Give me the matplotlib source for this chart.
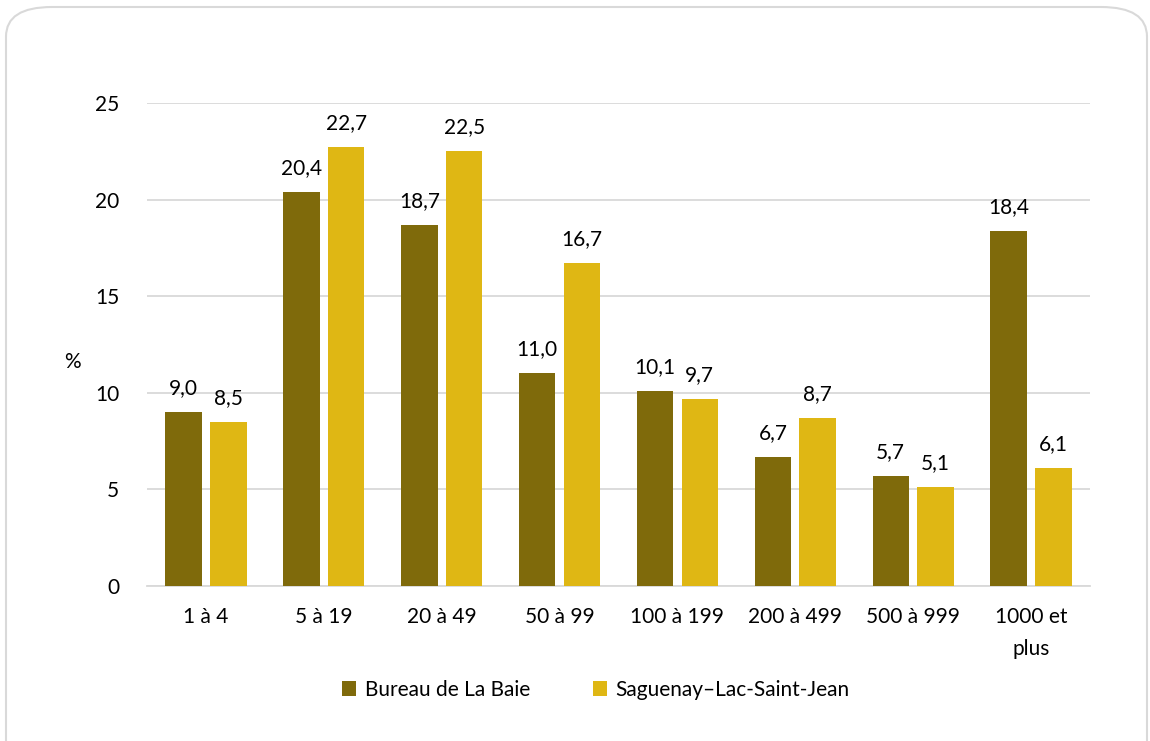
import matplotlib.pyplot as plt
import numpy as np
from matplotlib.patches import FancyBboxPatch

plt.rcParams['font.family'] = ['Lato', 'DejaVu Sans']

categories = ["1 à 4", "5 à 19", "20 à 49", "50 à 99", "100 à 199",
              "200 à 499", "500 à 999", "1000 et\nplus"]
bureau = [9.0, 20.4, 18.7, 11.0, 10.1, 6.7, 5.7, 18.4]
region = [8.5, 22.7, 22.5, 16.7, 9.7, 8.7, 5.1, 6.1]
series_names = ["Bureau de La Baie", "Saguenay\u2013Lac-Saint-Jean"]

dark = "#7F6A0B"
gold = "#DFB714"
fs = 15

fig = plt.figure(figsize=(11.5, 7.41), dpi=100)

# rounded frame around the chart
frame = FancyBboxPatch((6 / 1150, -0.05), 1141 / 1150, 1 - 7 / 741 + 0.05,
                       boxstyle="round,pad=0,rounding_size=0.04",
                       transform=fig.transFigure, facecolor="white",
                       edgecolor="#D9D9D9", linewidth=1.5, zorder=-10)
fig.patches.append(frame)

ax = fig.add_axes([147 / 1150, 1 - 586 / 741, 943 / 1150, (586 - 103) / 741])
ax.set_zorder(5)
ax.set_facecolor("none")

x = np.arange(len(categories))
w = 0.31
off = 0.19
b1 = ax.bar(x - off, bureau, w, color=dark, label=series_names[0], zorder=3)
b2 = ax.bar(x + off, region, w, color=gold, label=series_names[1], zorder=3)

for bars in (b1, b2):
    for r in bars:
        h = r.get_height()
        ax.annotate(f"{h:.1f}".replace(".", ","),
                    (r.get_x() + r.get_width() / 2, h),
                    xytext=(0, 10), textcoords="offset points",
                    ha="center", va="bottom", fontsize=fs, color="#000000")

ax.set_xlim(-0.5, len(categories) - 0.5)
ax.set_ylim(0, 25)
ax.set_yticks([0, 5, 10, 15, 20, 25])
ax.set_xticks(x)
ax.set_xticklabels(categories, fontsize=fs, linespacing=1.75)
ax.tick_params(axis="y", labelsize=fs, length=0, pad=20)
ax.tick_params(axis="x", length=0, pad=15)
ax.grid(axis="y", color="#D9D9D9", linewidth=1.3, zorder=0)
for s in ["top", "right", "left"]:
    ax.spines[s].set_visible(False)
ax.spines["bottom"].set_color("#D9D9D9")
ax.spines["bottom"].set_linewidth(1.3)

fig.text(72 / 1150, 1 - 362 / 741, "%", fontsize=fs, ha="center", va="center")

fig.legend(loc="center", bbox_to_anchor=(0.518, 1 - 690 / 741), ncol=2,
           frameon=False, fontsize=fs, handlelength=0.7, handleheight=0.7,
           columnspacing=3.0, handletextpad=0.4)

fig.savefig("out.png", dpi=100)
